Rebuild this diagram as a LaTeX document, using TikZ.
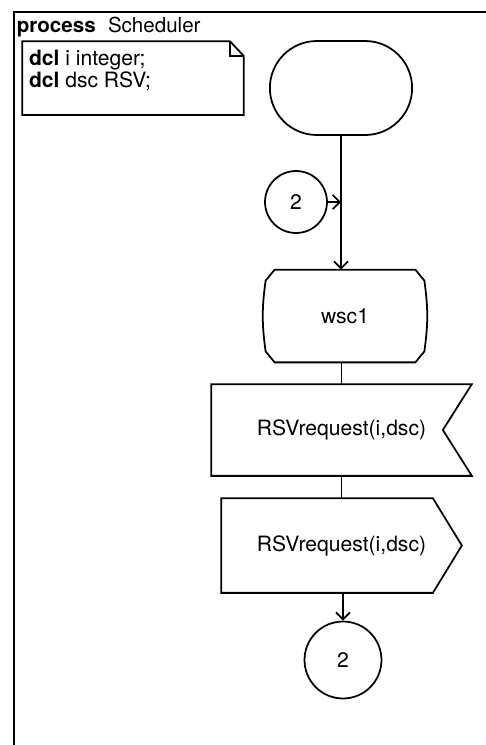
\documentclass[tikz,border=0pt]{standalone}
\usepackage{fontspec}
\setmainfont{TeX Gyre Heros}
\usepackage{tikz}
\usetikzlibrary{arrows.meta,shapes.misc,calc}

\begin{document}
\begin{tikzpicture}[x=0.02cm,y=-0.02cm,line width=1pt,
  >={Straight Barb[length=4pt,width=8pt]},
  sym/.style={inner sep=0pt,font=\fontsize{12}{14}\selectfont},
  conn/.style={circle,draw,inner sep=0pt,font=\fontsize{12}{14}\selectfont}]
\useasboundingbox (0,0) rectangle (486,745);
\draw[line width=1.1pt] (14,745) -- (14,12) -- (486,12);
\node[anchor=base west,inner sep=0pt,font=\fontsize{11.7}{14}\selectfont] (title) at (16,32) {\textbf{process}\hspace{7pt}Scheduler};
\node[minimum width=4.4cm,minimum height=1.44cm,inner sep=0pt] (note) at (133,78) {};
\draw (note.north west) -- ($(note.north east)+(-14,0)$) -- ($(note.north east)+(0,15)$) -- (note.south east) -- (note.south west) -- cycle;
\draw ($(note.north east)+(-14,0)$) -- ($(note.north east)+(-14,15)$) -- ($(note.north east)+(0,15)$);
\node[anchor=north west,align=left,inner sep=0pt,font=\fontsize{12}{10.8}\selectfont] (dcl) at ($(note.north west)+(6,8)$) {\textbf{dcl} i integer;\\\textbf{dcl} dsc RSV;};
\node[rounded rectangle,draw,minimum width=3.08cm,minimum height=1.88cm] (start) at (341,88) {};
\node[conn,minimum size=1.24cm] (c1) at (296,202) {2};
\node[sym,minimum width=3.14cm,minimum height=1.82cm] (wsc) at (345,316) {wsc1};
\draw ($(wsc.north west)+(9,0)$) -- ($(wsc.north east)+(-9,0)$) -- ($(wsc.north east)+(0,11)$)
  to[bend left=8] ($(wsc.south east)+(0,-11)$) -- ($(wsc.south east)+(-9,0)$)
  -- ($(wsc.south west)+(9,0)$) -- ($(wsc.south west)+(0,-11)$)
  to[bend left=8] ($(wsc.north west)+(0,11)$) -- cycle;
\node[sym,minimum width=5.18cm,minimum height=1.8cm] (in1) at (341.5,430) {RSVrequest(i,dsc)};
\draw (in1.north west) -- (in1.north east) -- ($(in1.east)+(-29,0)$) -- (in1.south east) -- (in1.south west) -- cycle;
\node[sym,minimum width=4.78cm,minimum height=1.86cm] (out1) at (341.5,545.5) {RSVrequest(i,dsc)};
\draw (out1.north west) -- ($(out1.north east)+(-29,0)$) -- (out1.east) -- ($(out1.south east)+(-29,0)$) -- (out1.south west) -- cycle;
\node[conn,minimum size=1.54cm] (c2) at (343,660) {2};
\draw[->] (start.south) -- (start.south |- wsc.north);
\draw[->] (c1.east) -- (c1.east -| start.south);
\draw (wsc.south -| in1.north) -- (in1.north);
\draw (in1.south) -- (out1.north);
\draw[->] (out1.south -| c2.north) -- (c2.north);
\end{tikzpicture}
\end{document}
